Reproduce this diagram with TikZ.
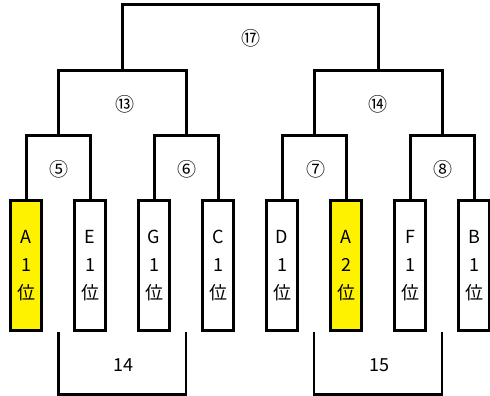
\documentclass[tikz,border=0pt]{standalone}
\usepackage{fontspec}
\setmainfont{Noto Sans CJK JP}
\begin{document}
\begin{tikzpicture}[x=1pt,y=-1pt,
  team/.style={draw=black,line width=3pt,minimum width=31pt,minimum height=130pt,inner sep=0pt,align=center,font=\fontsize{18}{28}\selectfont},
  win/.style={team,fill=yellow},
  bline/.style={line width=3pt,line join=miter},
  sline/.style={line width=2.5pt,line join=miter},
  rnd/.style={font=\fontsize{19}{19}\selectfont,inner sep=0pt},
  num/.style={font=\fontsize{18}{18}\selectfont,inner sep=0pt}]
\useasboundingbox (0,0) rectangle (490,396);
% teams
\node[win]  (t1) at (26,265.5)  {A\\1\\位};
\node[team] (t2) at (90,265.5)  {E\\1\\位};
\node[team] (t3) at (154,265.5) {G\\1\\位};
\node[team] (t4) at (218,265.5) {C\\1\\位};
\node[team] (t5) at (282,265.5) {D\\1\\位};
\node[win]  (t6) at (346,265.5) {A\\2\\位};
\node[team] (t7) at (410,265.5) {F\\1\\位};
\node[team] (t8) at (474,265.5) {B\\1\\位};
% level junctions
\coordinate (m5) at (58,135.5);
\coordinate (m6) at (186,135.5);
\coordinate (m7) at (314,135.5);
\coordinate (m8) at (442,135.5);
\coordinate (m13) at (122,70.5);
\coordinate (m14) at (378,70.5);
\coordinate (m17) at (250,4.5);
% first round
\draw[bline] (t1.north) |- (m5) -| (t2.north);
\draw[bline] (t3.north) |- (m6) -| (t4.north);
\draw[bline] (t5.north) |- (m7) -| (t6.north);
\draw[bline] (t7.north) |- (m8) -| (t8.north);
% second round
\draw[bline] (m5) |- (m13) -| (m6);
\draw[bline] (m7) |- (m14) -| (m8);
% final
\draw[bline] (m13) |- (m17) -| (m14);
% labels
\node[rnd] (r17) at (250.5,38.5) {⑰};
\node[rnd] (r13) at (124.5,104) {⑬};
\node[rnd] (r14) at (377.5,104) {⑭};
\node[rnd] (r5) at (59,169) {⑤};
\node[rnd] (r6) at (187,169) {⑥};
\node[rnd] (r7) at (315.5,169) {⑦};
\node[rnd] (r8) at (443,169) {⑧};
% bottom brackets
\coordinate (b1a) at (58.5,332);
\coordinate (b1b) at (186,332);
\coordinate (b2a) at (314,332);
\coordinate (b2b) at (442,332);
\draw[sline] (b1a) -- ++(0,62.5) -| (b1b);
\draw[sline] (b2a) -- ++(0,62.5) -| (b2b);
\node[num] (n14) at (123,365) {14};
\node[num] (n15) at (379,365) {15};
\end{tikzpicture}
\end{document}
